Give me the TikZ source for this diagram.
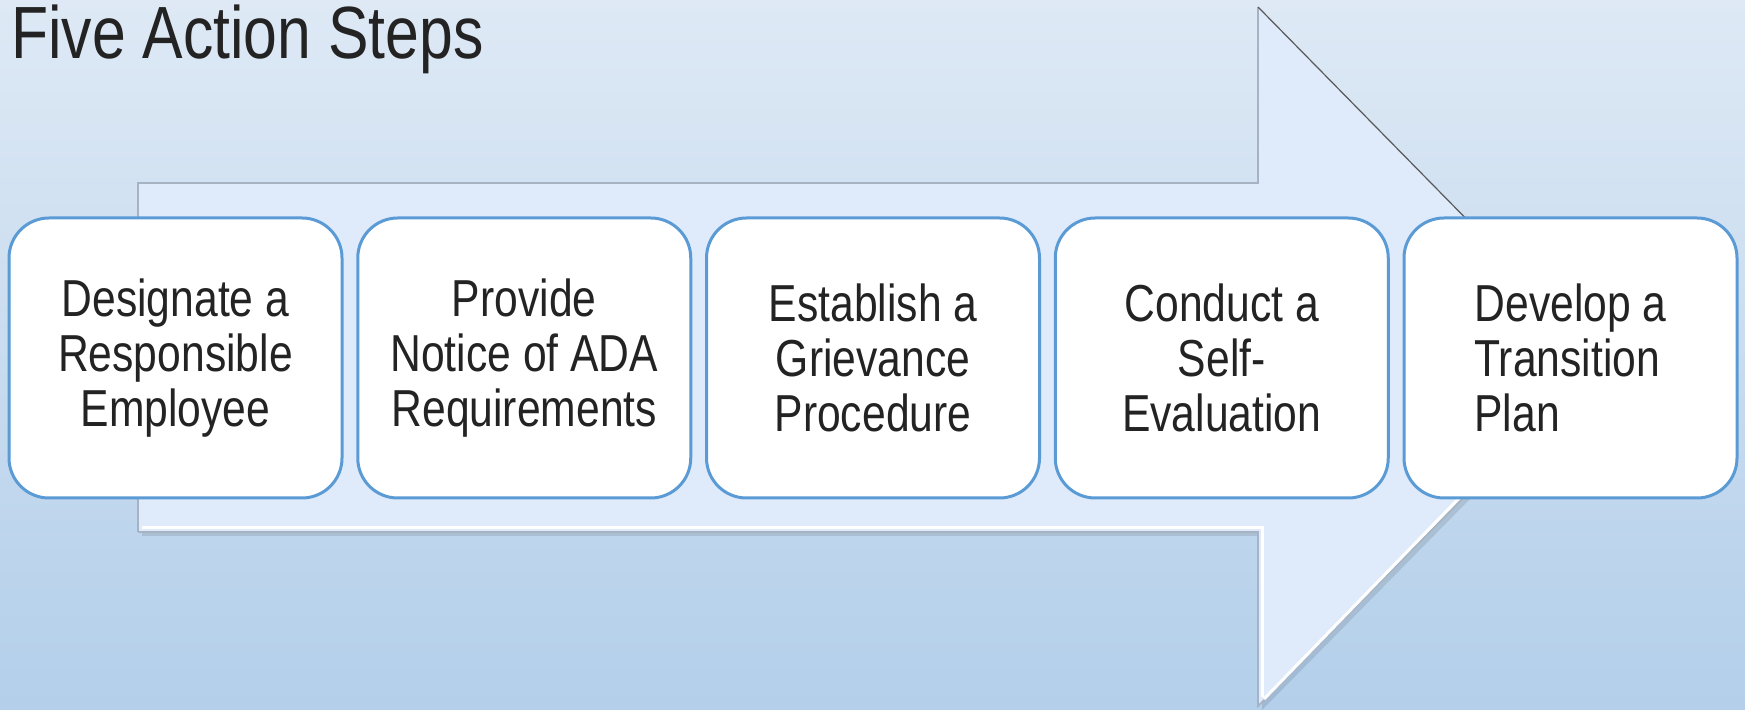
\documentclass[tikz,border=0pt]{standalone}
\usepackage{fontspec}
\setmainfont[FakeStretch=0.82]{Liberation Sans}
\usepackage{tikz}
\usetikzlibrary{calc}
\definecolor{bgtop}{HTML}{DEE9F5}
\definecolor{bgbottom}{HTML}{B3CFEA}
\definecolor{arrowfill}{HTML}{DFEAFB}
\definecolor{arrowedge}{HTML}{A7B3C2}
\definecolor{boxedge}{HTML}{5B9BD5}
\definecolor{inktext}{HTML}{232323}

\begin{document}
\begin{tikzpicture}[x=0.5pt,y=-0.5pt,
		stepbox/.style={draw=boxedge,fill=white,line width=1.5pt,rounded corners=20pt,
			minimum width=166.5pt,minimum height=140pt,inner sep=0pt,align=center,
			text=inktext,font=\fontsize{26}{27.5}\selectfont},
		arrowline/.style={line width=0.8pt,line join=miter}]
			\useasboundingbox (0,0) rectangle (1745,710);
			\shade[top color=bgtop,bottom color=bgbottom] (0,0) rectangle (1745,710);
			% big arrow
			\coordinate (sl) at (138,183);
			\coordinate (sn) at (1258,183);
			\coordinate (ht) at (1258,7);
			\coordinate (tip) at (1602,357);
			\coordinate (hb) at (1258,706);
			\coordinate (bn) at (1258,532);
			\coordinate (bl) at (138,532);
			\fill[black,opacity=0.10] ($(sl)+(4,4)$) -- ($(sn)+(4,4)$) -- ($(ht)+(4,4)$) -- ($(tip)+(4,4)$)
				-- ($(hb)+(4,4)$) -- ($(bn)+(4,4)$) -- ($(bl)+(4,4)$) -- cycle;
			\fill[arrowfill] (sl) -- (sn) -- (ht) -- (tip) -- (hb) -- (bn) -- (bl) -- cycle;
			\draw[arrowline,arrowedge] (bl) -- (sl) -- (sn) -- (ht);
			\draw[arrowline,arrowedge] (tip) -- (hb) -- (bn) -- (bl);
			\draw[white,line width=1.5pt] (142,528) -- (1262,528) -- (1262,697);
			\draw[white,line width=1.5pt] (1264,699) -- (1596,357);
			\draw[black!65,line width=0.6pt] (ht) -- (tip);
			% title
			\node[anchor=base west,inner sep=0pt,text=inktext,font=\fontsize{37}{40}\selectfont] (title) at (11,59) {Five Action Steps};
			% steps
			\node[stepbox] (designate) at (175.5,358) {Designate a\\Responsible\\Employee};
			\node[stepbox] (notice) at (524.25,358) {Provide\\Notice of ADA\\Requirements};
			\node[stepbox] (grievance) at (873,358) {Establish a\\Grievance\\Procedure};
			\node[stepbox] (selfeval) at (1221.75,358) {Conduct a\\Self-\\Evaluation};
			\node[stepbox,align=left] (transition) at (1570.5,358) {Develop a\\Transition\\Plan};
		\end{tikzpicture}
\end{document}
